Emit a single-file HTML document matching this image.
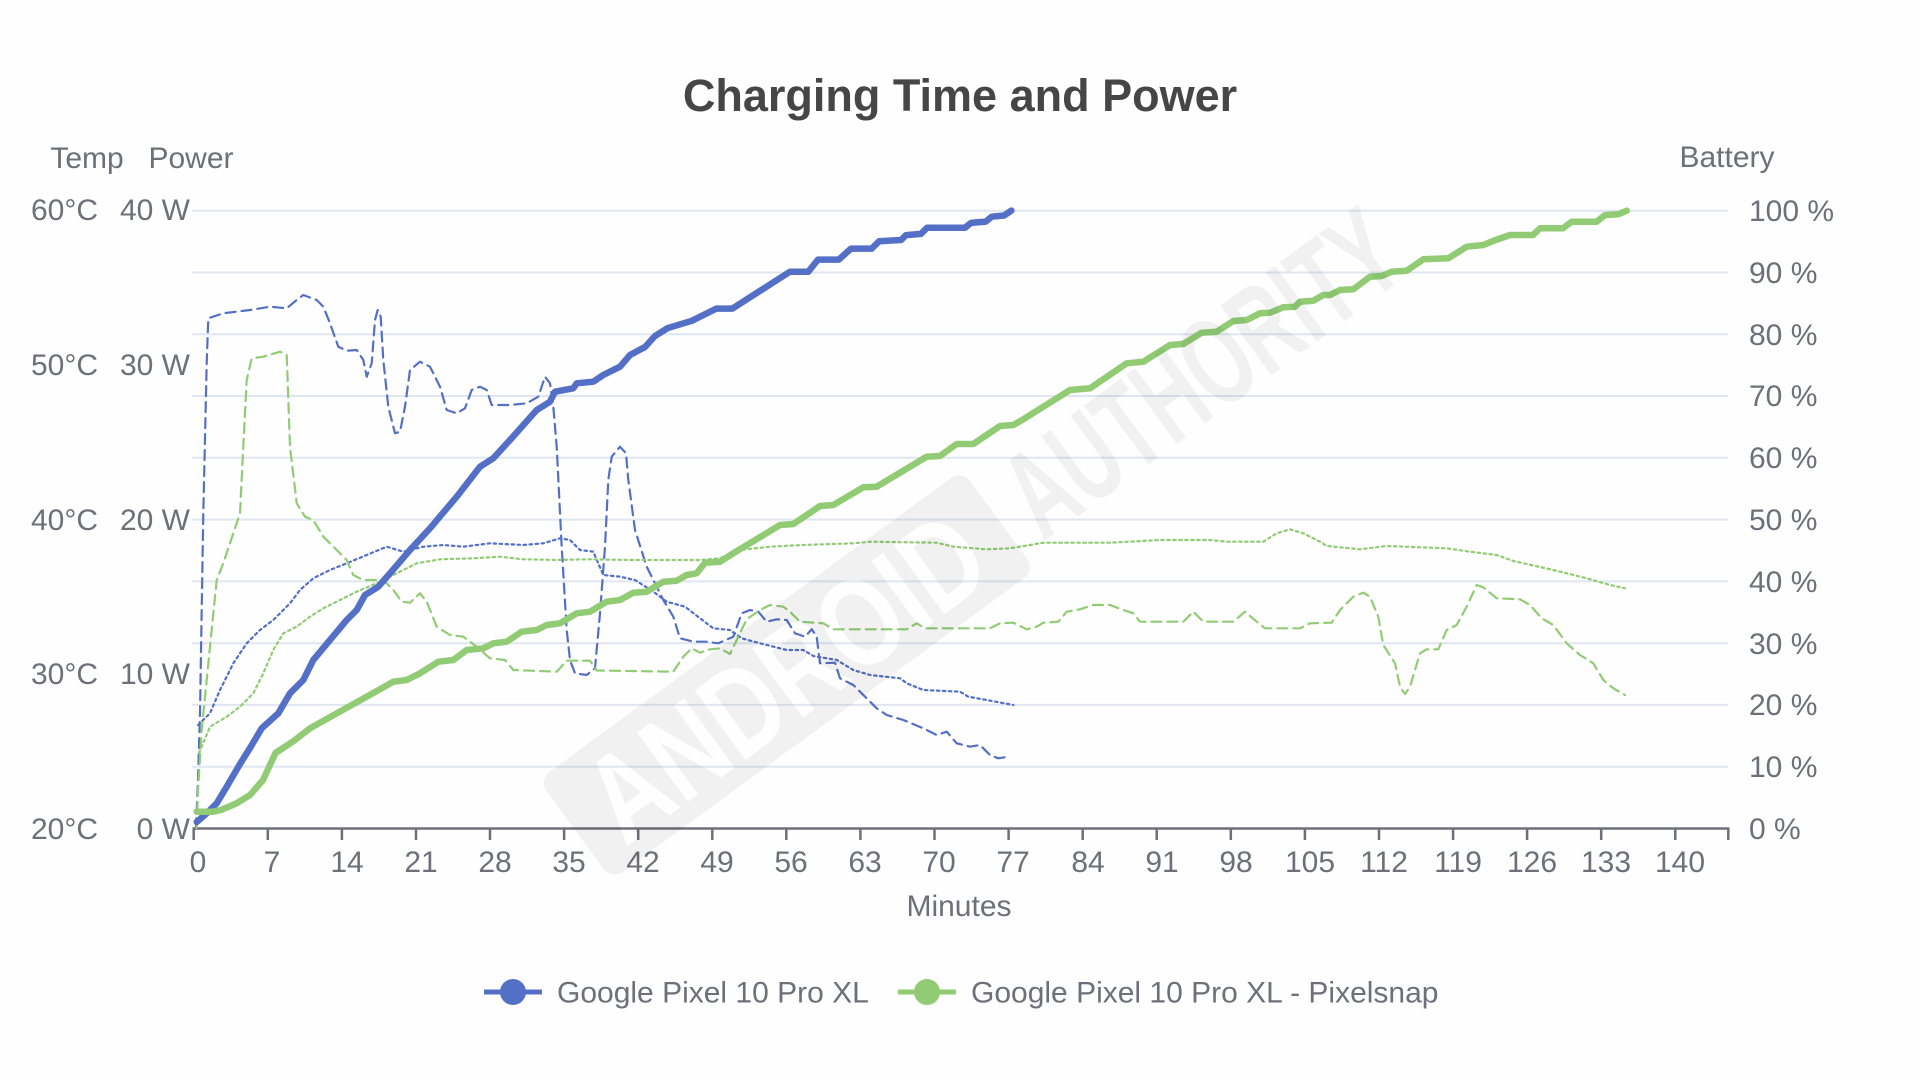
<!DOCTYPE html>
<html>
<head>
<meta charset="utf-8">
<style>
html,body{margin:0;padding:0;background:#ffffff;}
svg{display:block;}
text{font-family:"Liberation Sans",Arial,sans-serif;}
</style>
</head>
<body>
<svg width="1920" height="1080" viewBox="0 0 1920 1080" xmlns="http://www.w3.org/2000/svg">
<rect x="0" y="0" width="1920" height="1080" fill="#fefefe"/>

<!-- Title -->
<text x="960" y="111" text-anchor="middle" font-size="45" font-weight="bold" fill="#464646">Charging Time and Power</text>

<!-- Axis names -->
<g font-size="30" fill="#6e7079">
<text x="87" y="168" text-anchor="middle">Temp</text>
<text x="191" y="168" text-anchor="middle">Power</text>
<text x="1727" y="167" text-anchor="middle">Battery</text>
<text x="959" y="916" text-anchor="middle">Minutes</text>
</g>

<!-- Gridlines -->
<g stroke="#e0e6f1" stroke-width="2">
<line x1="192" y1="210.7" x2="1728" y2="210.7"/>
<line x1="192" y1="272.5" x2="1728" y2="272.5"/>
<line x1="192" y1="334.3" x2="1728" y2="334.3"/>
<line x1="192" y1="396.0" x2="1728" y2="396.0"/>
<line x1="192" y1="457.8" x2="1728" y2="457.8"/>
<line x1="192" y1="519.6" x2="1728" y2="519.6"/>
<line x1="192" y1="581.4" x2="1728" y2="581.4"/>
<line x1="192" y1="643.2" x2="1728" y2="643.2"/>
<line x1="192" y1="704.9" x2="1728" y2="704.9"/>
<line x1="192" y1="766.7" x2="1728" y2="766.7"/>
</g>

<!-- Left labels -->
<g font-size="30" fill="#6e7079" text-anchor="end">
<text x="98" y="220">60°C</text>
<text x="98" y="375">50°C</text>
<text x="98" y="530">40°C</text>
<text x="98" y="684">30°C</text>
<text x="98" y="839">20°C</text>
<text x="190" y="220">40 W</text>
<text x="190" y="375">30 W</text>
<text x="190" y="530">20 W</text>
<text x="190" y="684">10 W</text>
<text x="190" y="839">0 W</text>
</g>

<!-- Right labels -->
<g font-size="30" fill="#6e7079" text-anchor="start">
<text x="1749" y="221">100 %</text>
<text x="1749" y="283">90 %</text>
<text x="1749" y="345">80 %</text>
<text x="1749" y="406">70 %</text>
<text x="1749" y="468">60 %</text>
<text x="1749" y="530">50 %</text>
<text x="1749" y="592">40 %</text>
<text x="1749" y="654">30 %</text>
<text x="1749" y="715">20 %</text>
<text x="1749" y="777">10 %</text>
<text x="1749" y="839">0 %</text>
</g>

<!-- X axis -->
<line x1="192.5" y1="828.5" x2="1729.5" y2="828.5" stroke="#6e7079" stroke-width="2.5"/>
<g stroke="#6e7079" stroke-width="2.5">
<line x1="193.7" y1="828.5" x2="193.7" y2="840"/>
<line x1="267.8" y1="828.5" x2="267.8" y2="840"/>
<line x1="341.9" y1="828.5" x2="341.9" y2="840"/>
<line x1="416.0" y1="828.5" x2="416.0" y2="840"/>
<line x1="490.0" y1="828.5" x2="490.0" y2="840"/>
<line x1="564.1" y1="828.5" x2="564.1" y2="840"/>
<line x1="638.2" y1="828.5" x2="638.2" y2="840"/>
<line x1="712.3" y1="828.5" x2="712.3" y2="840"/>
<line x1="786.3" y1="828.5" x2="786.3" y2="840"/>
<line x1="860.4" y1="828.5" x2="860.4" y2="840"/>
<line x1="934.5" y1="828.5" x2="934.5" y2="840"/>
<line x1="1008.6" y1="828.5" x2="1008.6" y2="840"/>
<line x1="1082.7" y1="828.5" x2="1082.7" y2="840"/>
<line x1="1156.7" y1="828.5" x2="1156.7" y2="840"/>
<line x1="1230.8" y1="828.5" x2="1230.8" y2="840"/>
<line x1="1304.9" y1="828.5" x2="1304.9" y2="840"/>
<line x1="1379.0" y1="828.5" x2="1379.0" y2="840"/>
<line x1="1453.1" y1="828.5" x2="1453.1" y2="840"/>
<line x1="1527.1" y1="828.5" x2="1527.1" y2="840"/>
<line x1="1601.2" y1="828.5" x2="1601.2" y2="840"/>
<line x1="1675.3" y1="828.5" x2="1675.3" y2="840"/>
<line x1="1728.3" y1="828.5" x2="1728.3" y2="840"/>
</g>
<g font-size="30" fill="#6e7079" text-anchor="middle">
<text x="198" y="872">0</text>
<text x="272" y="872">7</text>
<text x="347" y="872">14</text>
<text x="421" y="872">21</text>
<text x="495" y="872">28</text>
<text x="569" y="872">35</text>
<text x="643" y="872">42</text>
<text x="717" y="872">49</text>
<text x="791" y="872">56</text>
<text x="865" y="872">63</text>
<text x="939" y="872">70</text>
<text x="1013" y="872">77</text>
<text x="1088" y="872">84</text>
<text x="1162" y="872">91</text>
<text x="1236" y="872">98</text>
<text x="1310" y="872">105</text>
<text x="1384" y="872">112</text>
<text x="1458" y="872">119</text>
<text x="1532" y="872">126</text>
<text x="1606" y="872">133</text>
<text x="1680" y="872">140</text>
</g>

<!-- Series -->
<g fill="none" stroke-linejoin="round" stroke-linecap="round">

<!-- Blue dashed power -->
<polyline stroke="#5470c6" stroke-width="2.2" stroke-dasharray="10 6" points="196,828 198,780 200,713 203.3,513 206.7,363 208.3,318.3 223.3,313.3 250,310 270,306.7 286.7,308.3 296.7,300 303.3,295 316.7,300 323.3,306.7 330,323.3 338.3,346.7 346.7,350.7 356.7,350 363.3,360 366.7,376.7 371.7,363.3 375,320 377.7,310 380.7,316.7 383.3,360 388.3,406.7 395,433.3 400,431.7 405,406.7 410,370 420,361.7 430,366.7 440,386.7 446.7,410 456.7,413.3 465,408.3 471.7,390 480,386.7 486.7,390 491.7,405 510,405 526.7,403.3 538.3,396.7 545,376.7 550,383.3 553.3,406.7 556.7,446.7 561.7,546.7 566.7,630 570,660 575,673.3 586.7,675 595,668.3 600,613.3 605,546.7 608.3,480 611.7,456.7 620,446.7 626,453.3 628.3,480 635,530 646.7,566.7 663.3,600 673.3,616.7 680,638.3 693.3,641.7 706.7,641.7 718.3,643.3 733.3,636.7 741.7,613.3 750,610 758.3,611.7 766.7,621.7 776.7,619.3 786.7,620 795,633.3 805,636.7 811.7,629.3 816.7,636.7 820,663.3 835,662.7 840,678.3 853.3,685 876.7,708.3 886.7,715 903.3,720 923.3,728.3 936.7,735 946.7,731.7 956.7,743.3 970,746.7 980,745 990,755 998.3,758.3 1008.3,756.7"/>

<!-- Blue dotted temp -->
<polyline stroke="#5470c6" stroke-width="2.2" stroke-dasharray="2.5 3.5" points="198,725 210,713.3 220,690 233.3,663.3 246.7,643.3 260,630 273.3,620 290,603.3 300,590 313.3,578.3 330,570 346.7,563.3 366.7,555 386.7,546.7 403.3,551.7 423.3,546.7 443.3,545 463.3,546.7 490,543.3 523.3,545 543.3,543.3 560,538.3 570,540 580,550 593.3,551.7 603.3,575 620,576.7 635,580 653.3,591.7 666.7,601.7 685,606.7 700,618.3 713.3,628.3 730,630 741.7,638.3 760,643.3 786.7,650 803.3,650 813.3,656 836.7,660 853.3,670 870,675 900,678.3 906.7,683.3 923.3,690 960,691.7 968.3,696.7 986.7,700 1013.3,705"/>

<!-- Green dashed power -->
<polyline stroke="#91cc75" stroke-width="2.2" stroke-dasharray="10 6" points="196.7,828 198,790 201.7,730 210,646.7 216.7,580 223.3,563.3 233.3,533.3 240,513.3 243.3,446.7 246.7,380 251.7,358.3 263.3,356.7 280,351.7 286.7,355 290,446.7 296.7,503.3 305,516.7 313.3,520 323.3,536.7 336.7,550 346.7,560 353.3,575 363.3,580 383.3,580 393.3,590 401.7,601.7 410,602.7 420,593.3 426.7,601.7 436.7,626.7 450,635 463.3,636.7 476.7,646.7 490,658.3 505,660 513.3,670 556.7,671.7 566.7,660.7 590,660.7 596.7,670.5 673.3,671.7 683.3,656.7 691.7,648.3 700,652.7 710,649.3 720,648.3 730,654 736.7,640 746.7,619.3 760,610 770,605 783.3,606.7 790,611.7 800,621.7 823.3,623.3 833.3,629.3 906.7,629.3 916.7,623.3 925,628.3 990,628.3 1000,623.3 1013.3,622.7 1026.7,629.3 1036.7,626.7 1043.3,622.7 1058.3,621.7 1066.7,611.7 1080,609.3 1093.3,605 1110,605 1123.3,610 1133.3,613.3 1140,621.7 1183.3,621.7 1193.3,611.7 1203.3,621.7 1233.3,621.7 1245,611.7 1256.7,621.7 1265,628.3 1300,628.3 1310,623.3 1331.7,622.7 1340,610 1353.3,596.7 1363.3,592.7 1370,596.7 1378.3,616.7 1383.3,645 1395,663.3 1400,686.7 1405,694 1410,686.7 1420,653.3 1426.7,649.3 1438.3,649.3 1446.7,630 1456.7,625 1466.7,606.7 1476.7,585 1483.3,587.3 1496.7,598.3 1520,599.3 1530,605 1541.7,618.3 1553.3,625 1566.7,643.3 1580,655 1593.3,663.3 1603.3,680 1613.3,688.3 1625,695"/>

<!-- Green dotted temp -->
<polyline stroke="#91cc75" stroke-width="2.2" stroke-dasharray="2.5 3.5" points="199,753 210,726.7 226.7,716.7 240,706.7 253.3,693.3 263.3,673.3 273.3,650 283.3,633.3 296.7,626.7 310,616.7 323.3,608.3 340,600 356.7,591.7 376.7,583.3 396.7,573.3 416.7,563.3 440,559.3 473.3,558.3 500,556.7 523.3,559.3 556.7,560 590,559.3 630,560 700,560 720,558.3 740,550 770,546.7 803.3,545 853.3,543.3 870,541.7 936.7,542.7 953.3,546.7 986.7,549.3 1010,548.3 1030,545 1043.3,542.7 1110,542.7 1160,540 1210,540 1226.7,541.7 1263.3,541.7 1276.7,533.3 1290,529.3 1303.3,533.3 1320,541.7 1326.7,546 1360,549.3 1386.7,546 1446.7,548.3 1470,551.7 1496.7,555 1513.3,561 1553.3,570 1586.7,578.3 1610,585 1625,588.3"/>

<!-- Blue solid battery -->
<polyline stroke="#5470c6" stroke-width="6.5" points="196.7,822 206.7,813.3 216.7,803.3 226.7,786.7 240,764 250,748 261.7,728.3 278.3,713.3 290,693.3 303.3,680 313.3,660 330,640 346.7,620 356.7,610 365,595 378.3,586.7 390,573.3 410,550 430,528.3 456.7,496.7 480,466.7 493.3,458.3 510,440 536.7,410 550,401.7 555,391.7 573.3,388.3 576.7,383.3 593.3,381.7 603.3,375 620,366.7 630,355 645,347 655,336 667.4,328.2 691.8,320.8 716.3,308.6 732.3,308.6 759.2,291.4 789.8,271.8 808.2,271.8 818,259.6 838.8,259.6 851,248.6 871.8,248.6 879.2,241.2 901.2,240 906.1,235.1 920.9,233.9 927,227.8 964.9,227.8 971,222.9 985.7,221.6 991.8,216.7 1004.1,215.5 1011.4,210.6"/>

<!-- Green solid battery -->
<polyline stroke="#91cc75" stroke-width="6.5" points="196.7,811.7 213,811.7 221,810 236.7,803.3 250,795 263,780 275.5,753 293.9,740.8 310,728.3 336.7,713.3 366.7,696.7 393.3,681.7 406.7,680 420,673.3 438.3,661.7 453.3,660 466.7,650 483.3,648.3 493.3,643.3 506.7,641.7 521.7,631.7 536.7,630 546.7,625 560,623.3 576.7,613.3 590,611.7 606.7,601.7 620,600 633.3,592.7 646.7,591.7 663.3,581.7 676.7,580.7 686.7,575 696.7,573.3 705,562.7 720,561.7 733.3,553.3 780,525 793.3,524 820,506 833.3,505 863.3,487.3 876.7,486.7 926.7,456.7 940,456 956.7,444 973.3,444 1000,426 1013.3,425 1023.3,419.3 1070,390 1090,388.3 1126.7,363.3 1143.3,361.7 1170,345 1183.3,344 1201.7,332.7 1216.7,331.7 1233.3,321 1246.7,320 1260,313.3 1270,312.7 1283.3,307.3 1295,306.7 1300,301.7 1313.3,300.7 1323.3,295 1330,295 1340,290 1353.3,289.3 1370,276.7 1381.7,276 1391.7,271.7 1406.7,270.7 1423.3,259.3 1448.3,258.3 1466.7,246.7 1483.3,245 1493,241 1510,235 1533,235 1540,228.3 1563,228.3 1571.7,221.7 1596.7,221.7 1605,215 1618.3,214.3 1626.7,210.7"/>
</g>

<!-- Watermark -->
<defs>
<mask id="wm" maskUnits="userSpaceOnUse" x="-200" y="-300" width="1500" height="600">
<rect x="-200" y="-300" width="1500" height="600" fill="#fff"/>
<text x="260" y="44" text-anchor="middle" font-size="125" font-weight="bold" fill="#000" textLength="460" lengthAdjust="spacingAndGlyphs">ANDROID</text>
</mask>
</defs>
<g transform="translate(575,830) rotate(-36.2)">
<rect x="0" y="-62" width="525" height="124" rx="14" fill="#000" fill-opacity="0.05" mask="url(#wm)"/>
<text x="548" y="44" font-size="125" font-weight="bold" fill="#000" fill-opacity="0.05" textLength="455" lengthAdjust="spacingAndGlyphs">AUTHORITY</text>
</g>

<!-- Legend -->
<g>
<line x1="484" y1="992" x2="542" y2="992" stroke="#5470c6" stroke-width="5"/>
<circle cx="513" cy="992" r="13" fill="#5470c6"/>
<text x="557" y="1002.5" font-size="30" fill="#6e7079">Google Pixel 10 Pro XL</text>
<line x1="898" y1="992" x2="956" y2="992" stroke="#91cc75" stroke-width="5"/>
<circle cx="927" cy="992" r="13" fill="#91cc75"/>
<text x="971" y="1002.5" font-size="30" fill="#6e7079">Google Pixel 10 Pro XL - Pixelsnap</text>
</g>
</svg>
</body>
</html>
